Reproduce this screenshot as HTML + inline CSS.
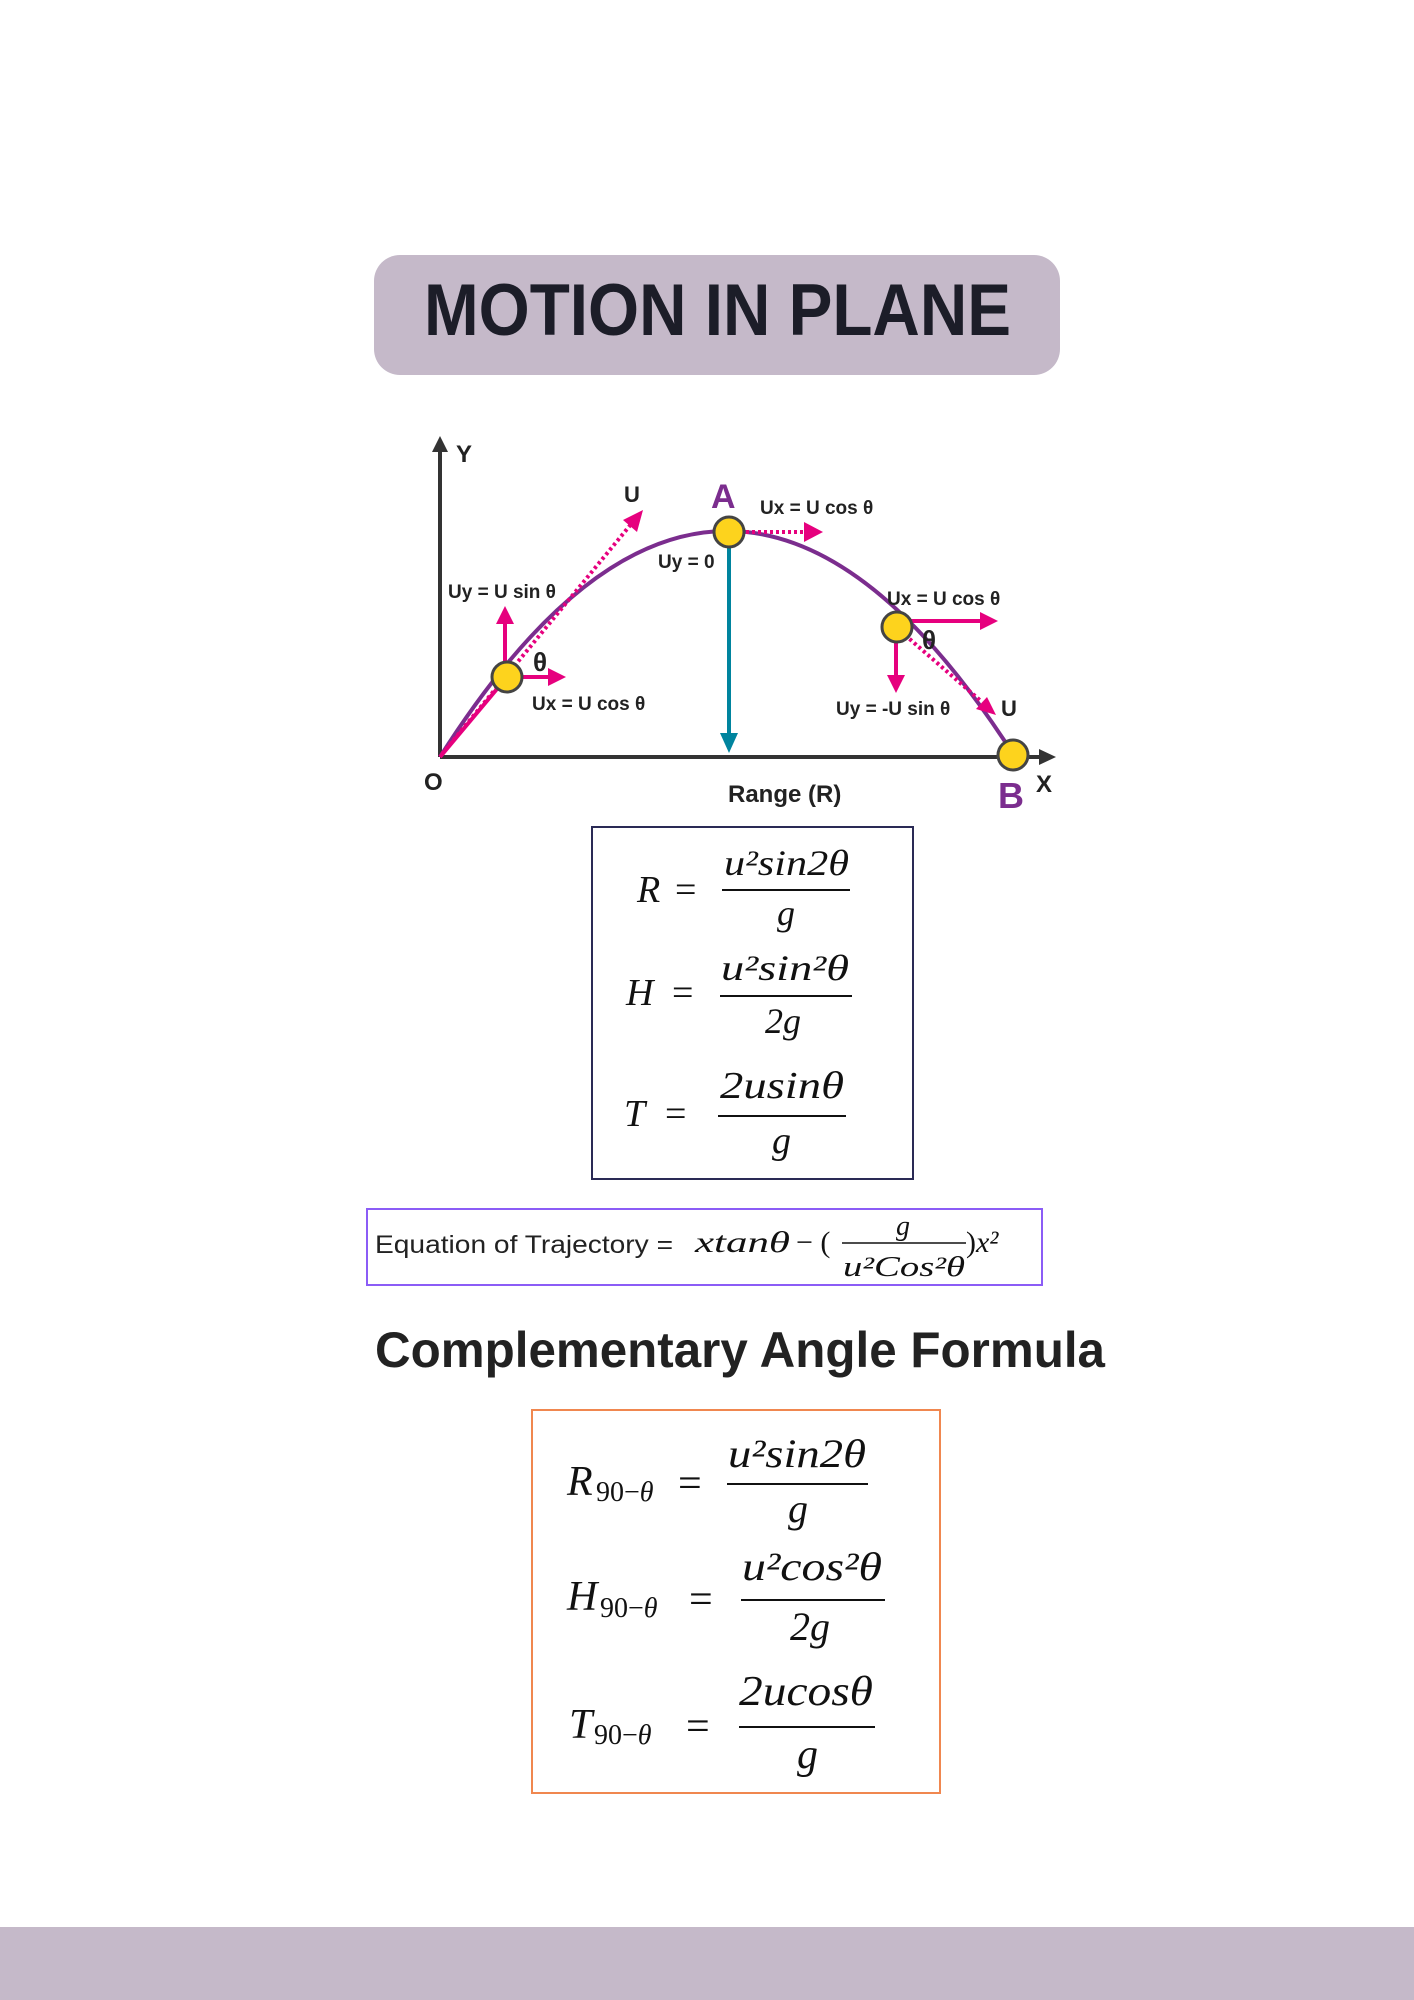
<!DOCTYPE html>
<html><head><meta charset="utf-8"><style>
html,body{margin:0;padding:0;background:#fff;}
svg{display:block;}
.m{font-family:"Liberation Serif",serif;font-style:italic;fill:#111;}
.u{font-family:"Liberation Serif",serif;fill:#111;}
.d{font-family:"Liberation Sans",sans-serif;font-weight:bold;fill:#222;}
</style></head><body>
<svg width="1414" height="2000" viewBox="0 0 1414 2000" xmlns="http://www.w3.org/2000/svg">
<!-- title -->
<rect x="374" y="255" width="686" height="120" rx="26" fill="#c5b9c9"/>
<text x="424" y="335" font-family="Liberation Sans, sans-serif" font-weight="bold" font-size="73" fill="#1c1d28" textLength="587" lengthAdjust="spacingAndGlyphs">MOTION IN PLANE</text>

<!-- axes -->
<line x1="440" y1="757" x2="440" y2="450" stroke="#333" stroke-width="4"/>
<path d="M440,436 L432,452 L448,452 Z" fill="#333"/>
<line x1="440" y1="757" x2="1040" y2="757" stroke="#333" stroke-width="4"/>
<path d="M1056,757 L1039,749 L1039,765 Z" fill="#333"/>
<!-- curve -->
<path d="M440,757 Q727,305 1015,757" fill="none" stroke="#7b2d8e" stroke-width="4"/>
<line x1="440" y1="757" x2="507" y2="677" stroke="#e6007e" stroke-width="4"/>
<!-- teal range arrow -->
<line x1="729" y1="540" x2="729" y2="735" stroke="#00849e" stroke-width="4"/>
<path d="M729,753 L720,733 L738,733 Z" fill="#00849e"/>
<!-- pink arrows -->
<line x1="442" y1="754" x2="632" y2="523" stroke="#e6007e" stroke-width="4" stroke-dasharray="3,3"/>
<path d="M643,510 L623,520 L637,532 Z" fill="#e6007e"/>
<line x1="505" y1="670" x2="505" y2="620" stroke="#e6007e" stroke-width="4"/>
<path d="M505,606 L496,624 L514,624 Z" fill="#e6007e"/>
<line x1="512" y1="677" x2="550" y2="677" stroke="#e6007e" stroke-width="4"/>
<path d="M566,677 L548,668 L548,686 Z" fill="#e6007e"/>
<line x1="740" y1="532" x2="805" y2="532" stroke="#e6007e" stroke-width="4" stroke-dasharray="3,3"/>
<path d="M823,532 L804,522 L804,542 Z" fill="#e6007e"/>
<line x1="905" y1="621" x2="982" y2="621" stroke="#e6007e" stroke-width="4"/>
<path d="M998,621 L980,612 L980,630 Z" fill="#e6007e"/>
<line x1="896" y1="632" x2="896" y2="678" stroke="#e6007e" stroke-width="4"/>
<path d="M896,693 L887,675 L905,675 Z" fill="#e6007e"/>
<line x1="905" y1="635" x2="982" y2="702" stroke="#e6007e" stroke-width="4" stroke-dasharray="3,3"/>
<path d="M996,715 L976,709 L987,697 Z" fill="#e6007e"/>
<!-- balls -->
<circle cx="507" cy="677" r="15" fill="#fdd31d" stroke="#444" stroke-width="3"/>
<circle cx="729" cy="532" r="15" fill="#fdd31d" stroke="#444" stroke-width="3"/>
<circle cx="897" cy="627" r="15" fill="#fdd31d" stroke="#444" stroke-width="3"/>
<circle cx="1013" cy="755" r="15" fill="#fdd31d" stroke="#444" stroke-width="3"/>
<!-- labels -->
<g class="d" font-size="20">
<text x="456" y="462" font-size="24">Y</text>
<text x="424" y="790" font-size="24">O</text>
<text x="1036" y="792" font-size="24">X</text>
<text x="624" y="502" font-size="22">U</text>
<text x="760" y="514" font-size="19">Ux = U cos θ</text>
<text x="658" y="568" font-size="19">Uy = 0</text>
<text x="448" y="598" font-size="19">Uy = U sin θ</text>
<text x="533" y="671" font-size="26">θ</text>
<text x="532" y="710" font-size="19">Ux = U cos θ</text>
<text x="887" y="605" font-size="19">Ux = U cos θ</text>
<text x="922" y="649" font-size="26">θ</text>
<text x="836" y="715" font-size="19">Uy = -U sin θ</text>
<text x="1001" y="716" font-size="22">U</text>
<text x="728" y="802" font-size="24">Range (R)</text>
</g>
<text x="711" y="508" font-family="Liberation Sans, sans-serif" font-weight="bold" font-size="34" fill="#7b2d8e">A</text>
<text x="998" y="808" font-family="Liberation Sans, sans-serif" font-weight="bold" font-size="36" fill="#7b2d8e">B</text>

<!-- box 1 -->
<rect x="592" y="827" width="321" height="352" fill="none" stroke="#2a2a55" stroke-width="2"/>
<text class="m" x="637" y="902" font-size="38">R</text>
<text class="u" x="675" y="902" font-size="38">=</text>
<text class="m" x="724" y="875" font-size="36" textLength="125" lengthAdjust="spacingAndGlyphs">u²sin2θ</text>
<line x1="722" y1="890" x2="850" y2="890" stroke="#111" stroke-width="2"/>
<text class="m" x="777" y="925" font-size="36">g</text>
<text class="m" x="626" y="1005" font-size="38">H</text>
<text class="u" x="672" y="1005" font-size="38">=</text>
<text class="m" x="721" y="980" font-size="36" textLength="128" lengthAdjust="spacingAndGlyphs">u²sin²θ</text>
<line x1="720" y1="996" x2="852" y2="996" stroke="#111" stroke-width="2"/>
<text class="m" x="765" y="1033" font-size="36">2g</text>
<text class="m" x="624" y="1126" font-size="38">T</text>
<text class="u" x="665" y="1126" font-size="38">=</text>
<text class="m" x="720" y="1098" font-size="38" textLength="124" lengthAdjust="spacingAndGlyphs">2usinθ</text>
<line x1="718" y1="1116" x2="846" y2="1116" stroke="#111" stroke-width="2"/>
<text class="m" x="772" y="1153" font-size="38">g</text>

<!-- trajectory box -->
<rect x="367" y="1209" width="675" height="76" fill="none" stroke="#8b5cf6" stroke-width="2"/>
<text x="375" y="1253" font-family="Liberation Sans, sans-serif" font-size="25" fill="#222" textLength="298" lengthAdjust="spacingAndGlyphs">Equation of Trajectory =</text>
<text class="m" x="695" y="1252" font-size="30" textLength="95" lengthAdjust="spacingAndGlyphs">xtanθ</text>
<text class="u" x="796" y="1252" font-size="30">− (</text>
<text class="m" x="896" y="1235" font-size="28">g</text>
<line x1="842" y1="1243" x2="966" y2="1243" stroke="#111" stroke-width="1.5"/>
<text class="m" x="843" y="1276" font-size="28" textLength="122" lengthAdjust="spacingAndGlyphs">u²Cos²θ</text>
<text class="u" x="966" y="1252" font-size="30">)</text>
<text class="m" x="976" y="1252" font-size="30">x²</text>

<!-- heading -->
<text x="375" y="1367" font-family="Liberation Sans, sans-serif" font-weight="bold" font-size="50" fill="#222" textLength="730" lengthAdjust="spacingAndGlyphs">Complementary Angle Formula</text>

<!-- box 3 -->
<rect x="532" y="1410" width="408" height="383" fill="none" stroke="#f0874f" stroke-width="2"/>
<text class="m" x="567" y="1495" font-size="42">R</text>
<text class="u" x="596" y="1501" font-size="28">90−<tspan font-style="italic">θ</tspan></text>
<text class="u" x="678" y="1497" font-size="42">=</text>
<text class="m" x="728" y="1467" font-size="40" textLength="138" lengthAdjust="spacingAndGlyphs">u²sin2θ</text>
<line x1="727" y1="1484" x2="868" y2="1484" stroke="#111" stroke-width="2"/>
<text class="m" x="788" y="1522" font-size="40">g</text>
<text class="m" x="567" y="1610" font-size="42">H</text>
<text class="u" x="600" y="1617" font-size="28">90−<tspan font-style="italic">θ</tspan></text>
<text class="u" x="689" y="1613" font-size="42">=</text>
<text class="m" x="742" y="1580" font-size="40" textLength="140" lengthAdjust="spacingAndGlyphs">u²cos²θ</text>
<line x1="741" y1="1600" x2="885" y2="1600" stroke="#111" stroke-width="2"/>
<text class="m" x="790" y="1640" font-size="40">2g</text>
<text class="m" x="569" y="1738" font-size="42">T</text>
<text class="u" x="594" y="1744" font-size="28">90−<tspan font-style="italic">θ</tspan></text>
<text class="u" x="686" y="1740" font-size="42">=</text>
<text class="m" x="739" y="1705" font-size="42" textLength="134" lengthAdjust="spacingAndGlyphs">2ucosθ</text>
<line x1="739" y1="1727" x2="875" y2="1727" stroke="#111" stroke-width="2"/>
<text class="m" x="797" y="1768" font-size="42">g</text>

<!-- bottom bar -->
<rect x="0" y="1927" width="1414" height="73" fill="#c5b9c9"/>
</svg>
</body></html>
